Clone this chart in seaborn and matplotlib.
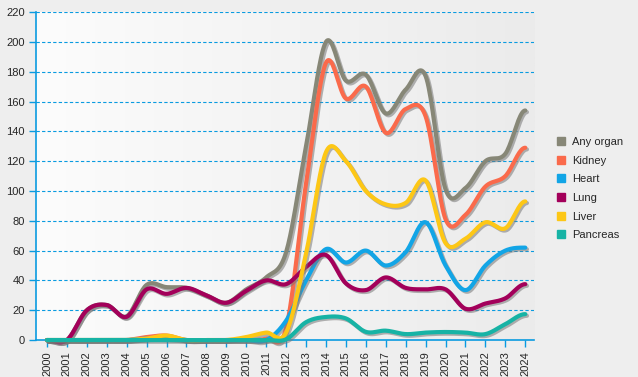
import numpy as np
import pandas as pd
import seaborn as sns
import matplotlib.pyplot as plt
import matplotlib.patheffects as pe
from matplotlib.lines import Line2D

# === data ===
years = list(range(2000, 2025))
any_organ = [0, 0, 20, 23.5, 16, 37, 35.5, 35, 30, 25, 34, 42, 59, 130, 200, 174, 178, 152, 168, 177, 101, 102, 120, 125, 154]
kidney = [0, 0, 0, 0, 0, 2, 3, 0, 0, 0, 0, 1, 8, 105, 186, 162, 170, 139, 155, 150, 81, 84, 103, 110, 129]
heart = [0, 0, 0, 0, 0, 1, 1, 0, 0, 0, 0, 0, 13, 40, 61, 52, 60, 50, 59, 79, 50, 33.5, 50, 60, 62]
lung = [0, 0, 20, 23.5, 15.6, 34, 31, 35, 30, 25, 33, 40, 37.5, 49, 57, 38, 33.5, 42, 35, 34, 34, 21, 24.5, 28, 37.5]
liver = [0, 0, 0, 0, 0, 1, 3, 0, 0, 0, 2, 5, 5, 58, 126, 120, 100, 91, 92, 107, 65, 68, 79, 75, 93]
pancreas = [0, 0, 0, 0, 0, 0, 0, 0, 0, 0, 0, 0, 0.5, 12, 15.5, 14.5, 5.5, 6.3, 4, 5, 5.4, 5, 4, 10.7, 17.4]

series = {
    "Any organ": any_organ,
    "Kidney": kidney,
    "Heart": heart,
    "Lung": lung,
    "Liver": liver,
    "Pancreas": pancreas,
}
colors = {
    "Any organ": "#878777",
    "Kidney": "#fa6a4b",
    "Heart": "#12a5e6",
    "Lung": "#a3005a",
    "Liver": "#fdc716",
    "Pancreas": "#17b3a5",
}
blue = "#0a9be0"


def smooth(x, y, n=20):
    # catmull-rom rendering of the yearly points
    x = np.asarray(x, float)
    y = np.asarray(y, float)
    m = np.zeros_like(y)
    m[1:-1] = (y[2:] - y[:-2]) / 2
    xs, ys = [], []
    for i in range(len(x) - 1):
        t = np.linspace(0, 1, n, endpoint=False)
        h00 = 2 * t**3 - 3 * t**2 + 1
        h10 = t**3 - 2 * t**2 + t
        h01 = -2 * t**3 + 3 * t**2
        h11 = t**3 - t**2
        xs.append(x[i] + t)
        ys.append(h00 * y[i] + h10 * m[i] + h01 * y[i + 1] + h11 * m[i + 1])
    xs.append([x[-1]])
    ys.append([y[-1]])
    return np.concatenate(xs), np.concatenate(ys)


sns.set_style("white")
plt.rcParams["font.family"] = ["Liberation Sans", "DejaVu Sans"]

fig = plt.figure(figsize=(6.38, 3.77), dpi=100, facecolor="#eeeeee")
ax = fig.add_axes([0.0564, 0.098, 0.781, 0.870])

# gradient plot background
grad = np.linspace(0, 1, 256).reshape(1, -1)
ax.imshow(grad, extent=[0, 1, 0, 1], transform=ax.transAxes, aspect="auto",
          cmap=plt.matplotlib.colors.LinearSegmentedColormap.from_list("bg", ["#fcfcfc", "#ebebeb"]),
          zorder=0)

for name, vals in series.items():
    sx, sy = smooth(years, vals)
    df = pd.DataFrame({"year": sx, "value": sy})
    sns.lineplot(data=df, x="year", y="value", color=colors[name], lw=3, sort=False,
                 ax=ax, legend=False, zorder=5, clip_on=False,
                 path_effects=[pe.SimpleLineShadow(offset=(1.2, -1.2), shadow_color="#777777", alpha=0.55),
                               pe.Normal()])

ax.set_xlim(1999.45, 2024.45)
ax.set_ylim(0, 220)
ax.set_xticks(years)
ax.set_xticklabels([str(y) for y in years], rotation=90, fontsize=8)
ax.set_yticks(range(0, 221, 20))
ax.tick_params(axis="y", labelsize=8, length=5, width=1, color=blue, left=True, pad=3)
ax.tick_params(axis="x", length=5, width=1, color=blue, bottom=True, pad=3)
ax.set_xlabel("")
ax.set_ylabel("")

for v in range(20, 221, 20):
    ax.axhline(v, color=blue, lw=0.8, ls=(0, (3, 2)), zorder=1)

for s in ["top", "right"]:
    ax.spines[s].set_visible(False)
for s in ["left", "bottom"]:
    ax.spines[s].set_color(blue)
    ax.spines[s].set_linewidth(1.2)

handles = [Line2D([], [], marker="s", ls="none", markersize=6, color=colors[k]) for k in series]
fig.legend(handles, list(series.keys()), loc="center left", bbox_to_anchor=(0.872, 0.5),
           frameon=False, fontsize=8, handlelength=0.8, handletextpad=0.6,
           labelspacing=0.78, borderpad=0, borderaxespad=0)

fig.savefig("out.png", dpi=100, facecolor=fig.get_facecolor())
